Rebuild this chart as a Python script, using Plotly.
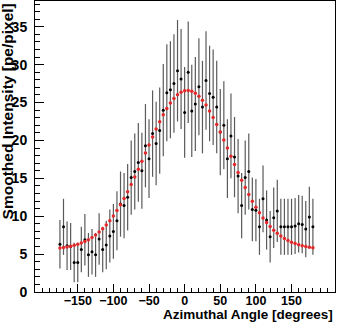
import plotly.graph_objects as go

# bin centres (degrees)
angle = [-175, -170, -165, -160, -155, -150, -145, -140, -135, -130, -125, -120,
         -115, -110, -105, -100, -95, -90, -85, -80, -75, -70, -65, -60,
         -55, -50, -45, -40, -35, -30, -25, -20, -15, -10, -5, 0,
         5, 10, 15, 20, 25, 30, 35, 40, 45, 50, 55, 60,
         65, 70, 75, 80, 85, 90, 95, 100, 105, 110, 115, 120,
         125, 130, 135, 140, 145, 150, 155, 160, 165, 170, 175, 180]

# measured smoothed intensity (pe/pixel)
intensity = [6.3, 8.6, 6.1, 6.0, 3.9, 3.9, 5.6, 6.9, 4.9, 5.3, 4.9, 7.0,
             5.6, 6.2, 7.4, 8.0, 9.4, 11.6, 11.4, 12.5, 15.1, 15.9, 17.1, 16.0,
             19.3, 17.6, 20.9, 19.6, 21.3, 24.0, 26.3, 26.7, 27.5, 29.2, 28.1, 23.7,
             29.0, 23.9, 24.8, 27.1, 24.4, 27.9, 26.2, 25.7, 24.4, 21.1, 22.0, 17.6,
             20.6, 17.8, 15.3, 11.4, 15.1, 15.9, 10.9, 10.8, 8.6, 12.3, 9.5, 7.3,
             9.8, 10.7, 8.6, 8.6, 8.6, 8.6, 8.7, 9.0, 8.9, 8.3, 9.9, 8.6]

intensity_err = [3.2, 3.7, 3.2, 3.1, 2.6, 2.6, 3.0, 3.4, 2.9, 3.0, 2.9, 3.4,
                 3.0, 3.2, 3.5, 3.6, 3.9, 4.3, 4.3, 4.4, 4.9, 5.0, 5.2, 5.0,
                 5.5, 5.2, 5.7, 5.5, 5.7, 6.1, 6.4, 6.4, 6.5, 6.7, 6.6, 6.0,
                 6.7, 6.1, 6.2, 6.4, 6.1, 6.5, 6.3, 6.3, 6.1, 5.7, 5.8, 5.2,
                 5.6, 5.3, 4.9, 4.3, 4.9, 5.0, 4.2, 4.1, 3.7, 4.4, 3.9, 3.4,
                 4.0, 4.1, 3.7, 3.7, 3.7, 3.7, 3.7, 3.8, 3.8, 3.7, 4.0, 3.7]

# fitted curve evaluated at each bin
fit = [5.81, 5.87, 5.95, 6.04, 6.16, 6.30, 6.47, 6.67, 6.91, 7.19, 7.52, 7.91,
       8.35, 8.85, 9.41, 10.04, 10.74, 11.50, 12.33, 13.22, 14.17, 15.16, 16.20, 17.26,
       18.34, 19.41, 20.47, 21.50, 22.48, 23.39, 24.21, 24.93, 25.54, 26.02, 26.36, 26.55,
       26.60, 26.49, 26.24, 25.84, 25.31, 24.66, 23.89, 23.03, 22.10, 21.10, 20.05, 18.99,
       17.91, 16.83, 15.78, 14.76, 13.78, 12.86, 11.99, 11.19, 10.45, 9.78, 9.18, 8.64,
       8.16, 7.75, 7.39, 7.07, 6.81, 6.58, 6.39, 6.24, 6.11, 6.00, 5.92, 5.85]

FONT = "Liberation Sans"

fig = go.Figure()

fig.add_scatter(
    x=angle,
    y=intensity,
    mode="markers",
    marker={"color": "black", "size": 3},
    error_y={"type": "data", "array": intensity_err, "color": "#5a5a5a",
             "thickness": 1.2, "width": 0},
    showlegend=False,
)
fig.add_scatter(
    x=angle,
    y=fit,
    mode="markers",
    marker={"color": "#e4282a", "size": 3.5},
    showlegend=False,
)

(
    fig.update_xaxes(
        range=[-210, 211],
        tickvals=[-150, -100, -50, 0, 50, 100, 150],
        ticks="inside",
        ticklen=8,
        tickcolor="black",
        minor={"dtick": 10, "ticklen": 4, "ticks": "inside", "tickcolor": "black"},
        showgrid=False,
        zeroline=False,
        showline=True,
        linecolor="black",
        linewidth=1,
        mirror=True,
        automargin=False,
        ticklabelstandoff=-3,
        tickfont={"family": FONT, "size": 12.5, "color": "black", "weight": "bold"},
    )
    .update_yaxes(
        range=[0, 38.4],
        tickvals=[0, 5, 10, 15, 20, 25, 30, 35],
        ticks="inside",
        ticklen=9,
        tickcolor="black",
        minor={"dtick": 1, "ticklen": 5, "ticks": "inside", "tickcolor": "black"},
        showgrid=False,
        zeroline=False,
        showline=True,
        linecolor="black",
        linewidth=1,
        mirror=True,
        automargin=False,
        ticklabelstandoff=4,
        tickfont={"family": FONT, "size": 14, "color": "black", "weight": "bold"},
    )
    .update_layout(
        width=338,
        height=322,
        margin={"l": 35, "r": 3, "t": 1, "b": 30, "autoexpand": False},
        plot_bgcolor="white",
        paper_bgcolor="white",
        font={"family": FONT, "color": "black"},
    )
)

fig.add_annotation(
    text="<b>Azimuthal Angle [degrees]</b>",
    xref="paper", yref="paper",
    x=1.0, y=-0.043,
    xanchor="right", yanchor="top",
    showarrow=False,
    font={"family": FONT, "size": 13.5, "color": "black"},
)
fig.add_annotation(
    text="<b>Smoothed Intensity [pe/pixel]</b>",
    xref="paper", yref="paper",
    x=-0.092, y=1.0,
    xanchor="center", yanchor="top",
    textangle=-90,
    showarrow=False,
    font={"family": FONT, "size": 15.5, "color": "black"},
)

# page body has a default 8px margin; remove it so the figure fills the window
fig.write_html(
    "out.html",
    config={"displayModeBar": False},
    post_script="document.body.style.margin='0';",
)
